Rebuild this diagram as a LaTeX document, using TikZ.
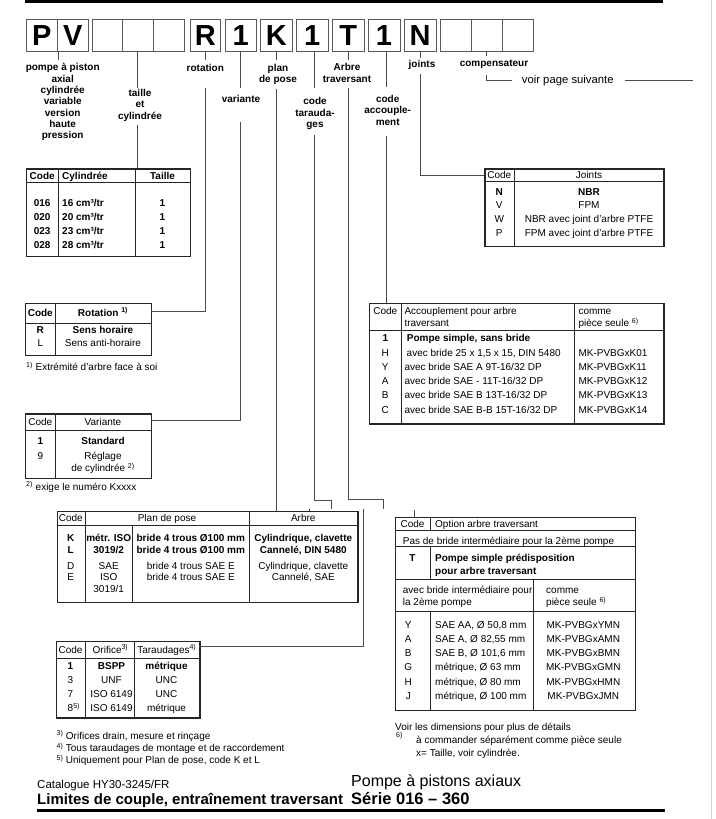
\documentclass[tikz,border=0pt]{standalone}
\usepackage{fontspec}
\setmainfont{Liberation Sans}
\usetikzlibrary{calc}
\begin{document}
\begin{tikzpicture}[x=1pt,y=-1pt,
  hb/.style={draw=black!65, line width=0.9pt, minimum height=32pt, inner sep=0pt,
    font=\fontsize{29}{29}\selectfont\bfseries, text height=20.8pt, text depth=0pt},
  lbl/.style={font=\fontsize{10}{11.3}\selectfont\bfseries, align=center, inner sep=0pt, anchor=north},
  conn/.style={draw=black!70, line width=0.8pt},
  tbl/.style={draw=black!85, line width=1.2pt, inner sep=0pt, anchor=north west},
  tline/.style={draw=black!85, line width=0.9pt},
  tx/.style={font=\fontsize{10}{12}\selectfont, inner sep=0pt, text height=7.2pt, text depth=0pt},
  txb/.style={tx, font=\fontsize{10}{12}\selectfont\bfseries},
  txw/.style={tx, anchor=west},
  txbw/.style={txb, anchor=west}]
\useasboundingbox (0,0) rectangle (715,819);
\fill[white] (0,0) rectangle (715,819);

% rules and page edge
\draw[line width=3pt] (25,1.8) -- (663,1.8);
\draw[line width=3pt] (37,810.5) -- (665,810.5);
\draw[black!18, line width=0.7pt] (711.5,0) -- (711.5,819);

% code boxes
\node[hb, minimum width=31.5pt] (bP) at (41.75,35) {P};
\node[hb, minimum width=30.5pt] (bV) at (72.75,35) {V};
\node[hb, minimum width=30.5pt] (bA1) at (107.25,35) {};
\node[hb, minimum width=30.5pt] (bA2) at (137.75,35) {};
\node[hb, minimum width=31pt] (bA3) at (168.5,35) {};
\node[hb, minimum width=30.5pt] (bR) at (205.25,35) {R};
\node[hb, minimum width=30.5pt] (bVar) at (240.75,35) {1};
\node[hb, minimum width=31.5pt] (bK) at (276.25,35) {K};
\node[hb, minimum width=31.5pt] (bTar) at (312.25,35) {1};
\node[hb, minimum width=32.5pt] (bT) at (348.25,35) {T};
\node[hb, minimum width=32pt] (bAcc) at (384,35) {1};
\node[hb, minimum width=32pt] (bN) at (420,35) {N};
\node[hb, minimum width=31pt] (bC1) at (455.5,35) {};
\node[hb, minimum width=31pt] (bC2) at (486.5,35) {};
\node[hb, minimum width=31pt] (bC3) at (517.5,35) {};

% labels
\node[lbl] (lPompe) at (62.7,63.4) {pompe à piston\\axial\\cylindrée\\variable\\version\\haute\\pression};
\node[lbl] (lTaille) at (140,89) {taille\\et\\cylindrée};
\node[lbl] (lRot) at (205.3,63.8) {rotation};
\node[lbl] (lVar) at (241,95) {variante};
\node[lbl] (lPlan) at (278,63.7) {plan\\de pose};
\node[lbl] (lTar) at (315,97.4) {code\\tarauda-\\ges};
\node[lbl] (lArbre) at (347,63.4) {Arbre\\traversant};
\node[lbl] (lAcc) at (387.7,95) {code\\accouple-\\ment};
\node[lbl] (lJoints) at (422,59.7) {joints};
\node[lbl] (lComp) at (494,59.7) {compensateur};
\node[tx, anchor=west, font=\fontsize{11.3}{13}\selectfont] (lVoir) at (521.7,80) {voir page suivante};

% ---------- table cylindree
\node[tbl, minimum width=164pt, minimum height=87.7pt] (tCyl) at (26,168.3) {};
\draw[tline] (26,182.7) -- (190,182.7) (58.3,168.3) -- (58.3,256) (135,168.3) -- (135,256);
\node[txb] (cy0a) at (42.2,175.5) {Code};
\node[txbw] (cy0b) at (62,175.5) {Cylindrée};
\node[txb] (cy0c) at (162.5,175.5) {Taille};
\node[txb] (cy1a) at (42.2,203.3) {016}; \node[txbw] (cy1b) at (62,203.3) {16 cm³/tr}; \node[txb] (cy1c) at (162.5,203.3) {1};
\node[txb] (cy2a) at (42.2,217.3) {020}; \node[txbw] (cy2b) at (62,217.3) {20 cm³/tr}; \node[txb] (cy2c) at (162.5,217.3) {1};
\node[txb] (cy3a) at (42.2,231.3) {023}; \node[txbw] (cy3b) at (62,231.3) {23 cm³/tr}; \node[txb] (cy3c) at (162.5,231.3) {1};
\node[txb] (cy4a) at (42.2,245) {028}; \node[txbw] (cy4b) at (62,245) {28 cm³/tr}; \node[txb] (cy4c) at (162.5,245) {1};

% ---------- table rotation
\node[tbl, minimum width=125.7pt, minimum height=52.3pt] (tRot) at (25,302.7) {};
\draw[tline] (25,323.3) -- (150.7,323.3) (55.7,302.7) -- (55.7,355);
\node[txb] (ro0a) at (40.3,313) {Code};
\node[txb] (ro0b) at (103,313) {Rotation \textsuperscript{1)}};
\node[txb] (ro1a) at (40.3,330) {R}; \node[txb] (ro1b) at (103,330) {Sens horaire};
\node[tx] (ro2a) at (40.3,343.3) {L}; \node[tx] (ro2b) at (103,343.3) {Sens anti-horaire};
\node[txw] (roFn) at (26,367.3) {\textsuperscript{1)} Extrémité d'arbre face à soi};

% ---------- table variante
\node[tbl, minimum width=125.7pt, minimum height=64.4pt] (tVar) at (25,413.3) {};
\draw[tline] (25,430.7) -- (150.7,430.7) (55.7,413.3) -- (55.7,477.7);
\node[tx] (va0a) at (40.3,422) {Code};
\node[tx] (va0b) at (103,422) {Variante};
\node[txb] (va1a) at (40.3,440.7) {1}; \node[txb] (va1b) at (103,440.7) {Standard};
\node[tx] (va2a) at (40.3,455.7) {9}; \node[tx] (va2b) at (103,455.7) {Réglage};
\node[tx] (va3b) at (103,468.3) {de cylindrée \textsuperscript{2)}};
\node[txw] (vaFn) at (26,486.7) {\textsuperscript{2)} exige le numéro Kxxxx};

% ---------- table joints
\node[tbl, minimum width=179pt, minimum height=77.7pt] (tJ) at (484.3,168.3) {};
\draw[tline] (484.3,181.7) -- (663.3,181.7) (514.3,168.3) -- (514.3,246);
\node[tx] (jo0a) at (499.3,175) {Code}; \node[tx] (jo0b) at (589,175) {Joints};
\node[txb] (jo1a) at (499.3,191.7) {N}; \node[txb] (jo1b) at (589,191.7) {NBR};
\node[tx] (jo2a) at (499.3,205.3) {V}; \node[tx] (jo2b) at (589,205.3) {FPM};
\node[tx] (jo3a) at (499.3,219.3) {W}; \node[tx] (jo3b) at (589,219.3) {NBR avec joint d'arbre PTFE};
\node[tx] (jo4a) at (499.3,233.3) {P}; \node[tx] (jo4b) at (589,233.3) {FPM avec joint d'arbre PTFE};

% ---------- table accouplement
\node[tbl, minimum width=294.3pt, minimum height=120.6pt] (tAcc) at (369,302.7) {};
\draw[tline] (369,330) -- (663.3,330) (401.7,302.7) -- (401.7,423.3) (574.3,302.7) -- (574.3,423.3);
\node[tx] (ac0a) at (385.3,311) {Code};
\node[txw] (ac0b) at (404.3,311) {Accouplement pour arbre};
\node[txw] (ac0c) at (404.3,323.3) {traversant};
\node[txw] (ac0d) at (578.3,311) {comme};
\node[txw] (ac0e) at (578.3,323.3) {pièce seule \textsuperscript{6)}};
\node[txb] (ac1a) at (385.3,338.3) {1}; \node[txbw] (ac1b) at (406.7,338.3) {Pompe simple, sans bride};
\node[tx] (ac2a) at (385.3,353.3) {H}; \node[txw] (ac2b) at (406.5,353.3) {avec bride 25 x 1,5 x 15, DIN 5480}; \node[txw] (ac2c) at (578.3,353.3) {MK-PVBGxK01};
\node[tx] (ac3a) at (385.3,367.3) {Y}; \node[txw] (ac3b) at (404.3,367.3) {avec bride SAE A 9T-16/32 DP}; \node[txw] (ac3c) at (578.3,367.3) {MK-PVBGxK11};
\node[tx] (ac4a) at (385.3,381.2) {A}; \node[txw] (ac4b) at (404.3,381.2) {avec bride SAE - 11T-16/32 DP}; \node[txw] (ac4c) at (578.3,381.2) {MK-PVBGxK12};
\node[tx] (ac5a) at (385.3,395.2) {B}; \node[txw] (ac5b) at (404.3,395.2) {avec bride SAE B 13T-16/32 DP}; \node[txw] (ac5c) at (578.3,395.2) {MK-PVBGxK13};
\node[tx] (ac6a) at (385.3,410) {C}; \node[txw] (ac6b) at (404.3,410) {avec bride SAE B-B 15T-16/32 DP}; \node[txw] (ac6c) at (578.3,410) {MK-PVBGxK14};

% ---------- table plan de pose
\node[tbl, minimum width=300.6pt, minimum height=91pt] (tPlan) at (56.7,510.7) {};
\draw[tline] (56.7,525) -- (357.3,525) (85,510.7) -- (85,601.7) (249.3,510.7) -- (249.3,601.7) (132.3,525) -- (132.3,601.7);
\node[tx] (pl0a) at (70.8,517.7) {Code}; \node[tx] (pl0b) at (167,517.7) {Plan de pose}; \node[tx] (pl0c) at (303.3,517.7) {Arbre};
\node[txb] (pl1a) at (70.8,538.3) {K}; \node[txb] (pl1b) at (108.7,538.3) {métr. ISO}; \node[txb] (pl1c) at (190.8,538.3) {bride 4 trous Ø100 mm}; \node[txb] (pl1d) at (303.3,538.3) {Cylindrique, clavette};
\node[txb] (pl2a) at (70.8,550) {L}; \node[txb] (pl2b) at (108.7,550) {3019/2}; \node[txb] (pl2c) at (190.8,550) {bride 4 trous Ø100 mm}; \node[txb] (pl2d) at (303.3,550) {Cannelé, DIN 5480};
\node[tx] (pl3a) at (70.8,565.7) {D}; \node[tx] (pl3b) at (108.7,565.7) {SAE}; \node[tx] (pl3c) at (190.8,565.7) {bride 4 trous SAE E}; \node[tx] (pl3d) at (303.3,565.7) {Cylindrique, clavette};
\node[tx] (pl4a) at (70.8,577.3) {E}; \node[tx] (pl4b) at (108.7,577.3) {ISO}; \node[tx] (pl4c) at (190.8,577.3) {bride 4 trous SAE E}; \node[tx] (pl4d) at (303.3,577.3) {Cannelé, SAE};
\node[tx] (pl5b) at (108.7,589) {3019/1};

% ---------- table orifice
\node[tbl, minimum width=143.3pt, minimum height=76.3pt] (tOr) at (56,641) {};
\draw[tline] (56,658.3) -- (199.3,658.3) (85,641) -- (85,717.3) (134.3,641) -- (134.3,717.3);
\node[tx] (or0a) at (70.5,650) {Code}; \node[tx] (or0b) at (110.5,650) {Orifice\textsuperscript{3)}}; \node[tx] (or0c) at (166.8,650) {Taraudages\textsuperscript{4)}};
\node[txbw] (or1a) at (67.5,666) {1}; \node[txb] (or1b) at (111.5,666) {BSPP}; \node[txb] (or1c) at (166.5,666) {métrique};
\node[txw] (or2a) at (67.5,680) {3}; \node[tx] (or2b) at (111.5,680) {UNF}; \node[tx] (or2c) at (166.5,680) {UNC};
\node[txw] (or3a) at (67.5,694.3) {7}; \node[tx] (or3b) at (111.5,694.3) {ISO 6149}; \node[tx] (or3c) at (166.5,694.3) {UNC};
\node[txw] (or4a) at (67.5,708.3) {8\textsuperscript{5)}}; \node[tx] (or4b) at (111.5,708.3) {ISO 6149}; \node[tx] (or4c) at (166.5,708.3) {métrique};
\node[txw] (orF1) at (56.5,736) {\textsuperscript{3)}\hspace{2.5pt}Orifices drain, mesure et rinçage};
\node[txw] (orF2) at (56.5,748.3) {\textsuperscript{4)}\hspace{2.5pt}Tous taraudages de montage et de raccordement};
\node[txw] (orF3) at (56.5,760.3) {\textsuperscript{5)}\hspace{2.5pt}Uniquement pour Plan de pose, code K et L};

% ---------- table option arbre traversant
\node[tbl, minimum width=240pt, minimum height=193.3pt] (tOpt) at (395,516.7) {};
\draw[tline] (395,530) -- (635,530) (395,546.7) -- (635,546.7) (395,579.3) -- (635,579.3) (395,611.7) -- (635,611.7)
  (430,516.7) -- (430,530) (430,546.7) -- (430,579.3) (533.3,579.3) -- (533.3,710) (430,611.7) -- (430,710);
\node[tx] (op0a) at (412.5,523.7) {Code}; \node[txw] (op0b) at (435,523.7) {Option arbre traversant};
\node[txw] (op1) at (402.7,540.7) {Pas de bride intermédiaire pour la 2ème pompe};
\node[txb] (op2a) at (412.5,558.3) {T}; \node[txbw] (op2b) at (435,558.3) {Pompe simple prédisposition}; \node[txbw] (op2c) at (435,571) {pour arbre traversant};
\node[txw] (op3a) at (402.7,590) {avec bride intermédiaire pour}; \node[txw] (op3b) at (402.7,602.3) {la 2ème pompe};
\node[txw] (op3c) at (546,590) {comme}; \node[txw] (op3d) at (546,602.3) {pièce seule \textsuperscript{6)}};
\node[tx] (opYa) at (408.3,625) {Y}; \node[txw] (opYb) at (435,625) {SAE AA, Ø 50,8 mm}; \node[tx] (opYc) at (583.3,625) {MK-PVBGxYMN};
\node[tx] (opAa) at (408.3,638.5) {A}; \node[txw] (opAb) at (435,638.5) {SAE A, Ø 82,55 mm}; \node[tx] (opAc) at (583.3,638.5) {MK-PVBGxAMN};
\node[tx] (opBa) at (408.3,653.3) {B}; \node[txw] (opBb) at (435,653.3) {SAE B, Ø 101,6 mm}; \node[tx] (opBc) at (583.3,653.3) {MK-PVBGxBMN};
\node[tx] (opGa) at (408.3,667.3) {G}; \node[txw] (opGb) at (435,667.3) {métrique, Ø 63 mm}; \node[tx] (opGc) at (583.3,667.3) {MK-PVBGxGMN};
\node[tx] (opHa) at (408.3,681.7) {H}; \node[txw] (opHb) at (435,681.7) {métrique, Ø 80 mm}; \node[tx] (opHc) at (583.3,681.7) {MK-PVBGxHMN};
\node[tx] (opJa) at (408.3,696) {J}; \node[txw] (opJb) at (435,696) {métrique, Ø 100 mm}; \node[tx] (opJc) at (583.3,696) {MK-PVBGxJMN};
\node[txw] (opF1) at (395,726.7) {Voir les dimensions pour plus de détails};
\node[txw] (opF2m) at (396,738) {\textsuperscript{6)}};
\node[txw] (opF2) at (416,740) {à commander séparément comme pièce seule};
\node[txw] (opF3) at (416,753.3) {x= Taille, voir cylindrée.};

% ---------- footer
\node[anchor=west, inner sep=0pt, font=\fontsize{11.5}{13}\selectfont, text height=8.3pt, text depth=0pt] (fCat) at (37,784) {Catalogue HY30-3245/FR};
\node[anchor=west, inner sep=0pt, font=\fontsize{15}{17}\selectfont\bfseries, text height=10.8pt, text depth=0pt] (fLim) at (37,799) {Limites de couple, entraînement traversant};
\node[anchor=west, inner sep=0pt, font=\fontsize{16}{18}\selectfont, text height=11.5pt, text depth=0pt] (fPom) at (351,781) {Pompe à pistons axiaux};
\node[anchor=west, inner sep=0pt, font=\fontsize{16.5}{18}\selectfont\bfseries, text height=11.8pt, text depth=0pt] (fSer) at (351,799) {Série 016 – 360};

% ---------- connectors
\coordinate (cRot) at (150.7,311.7);
\coordinate (cVar) at (150.7,420.7);
\coordinate (cJoi) at (484.3,175);
\coordinate (cOr) at (199.3,646.7);
\coordinate (cAcc) at (386,302.7);
\coordinate (cOpt) at (414,516.7);
\coordinate (cPlan) at (276.5,510.7);
\draw[conn] (bP.south east) -- ++(0,9);
\draw[conn] (bA2.south) -- (137.75,88);
\draw[conn] (137.75,125) -- (bA2 |- tCyl.north);
\draw[conn] (bR.south) -- ++(0,9);
\draw[conn] (205.25,88) |- (cRot);
\draw[conn] (bVar.south) -- (240.75,88);
\draw[conn] (240.75,122) |- (cVar);
\draw[conn] (bK.south) -- ++(0,9);
\draw[conn] (276.5,89) -- (cPlan);
\draw[conn] (309,508.5) -- (309,510.7);
\draw[conn] (314.5,51) -- (314.5,88);
\draw[conn] (314.5,135) |- (331.7,500) -- (331.7,509);
\draw[conn] (bT.south) -- ++(0,9);
\draw[conn] (347.9,88) |- (383.3,499.5) -- (383.3,509);
\draw[conn] (386,51) -- (386,86.7);
\draw[conn] (386,136) -- (cAcc);
\draw[conn] (bN.south) -- ++(0,6.5);
\draw[conn] (420.5,74) |- (cJoi);
\draw[conn] (bC2.south) -- ++(0,5);
\draw[conn] (486.7,75) |- (511.7,80);
\draw[conn] (625,80) -- (693,80);
\draw[conn] (363.3,509) |- (cOr);
\draw[conn] (414,509.5) -- (cOpt);
\end{tikzpicture}
\end{document}
